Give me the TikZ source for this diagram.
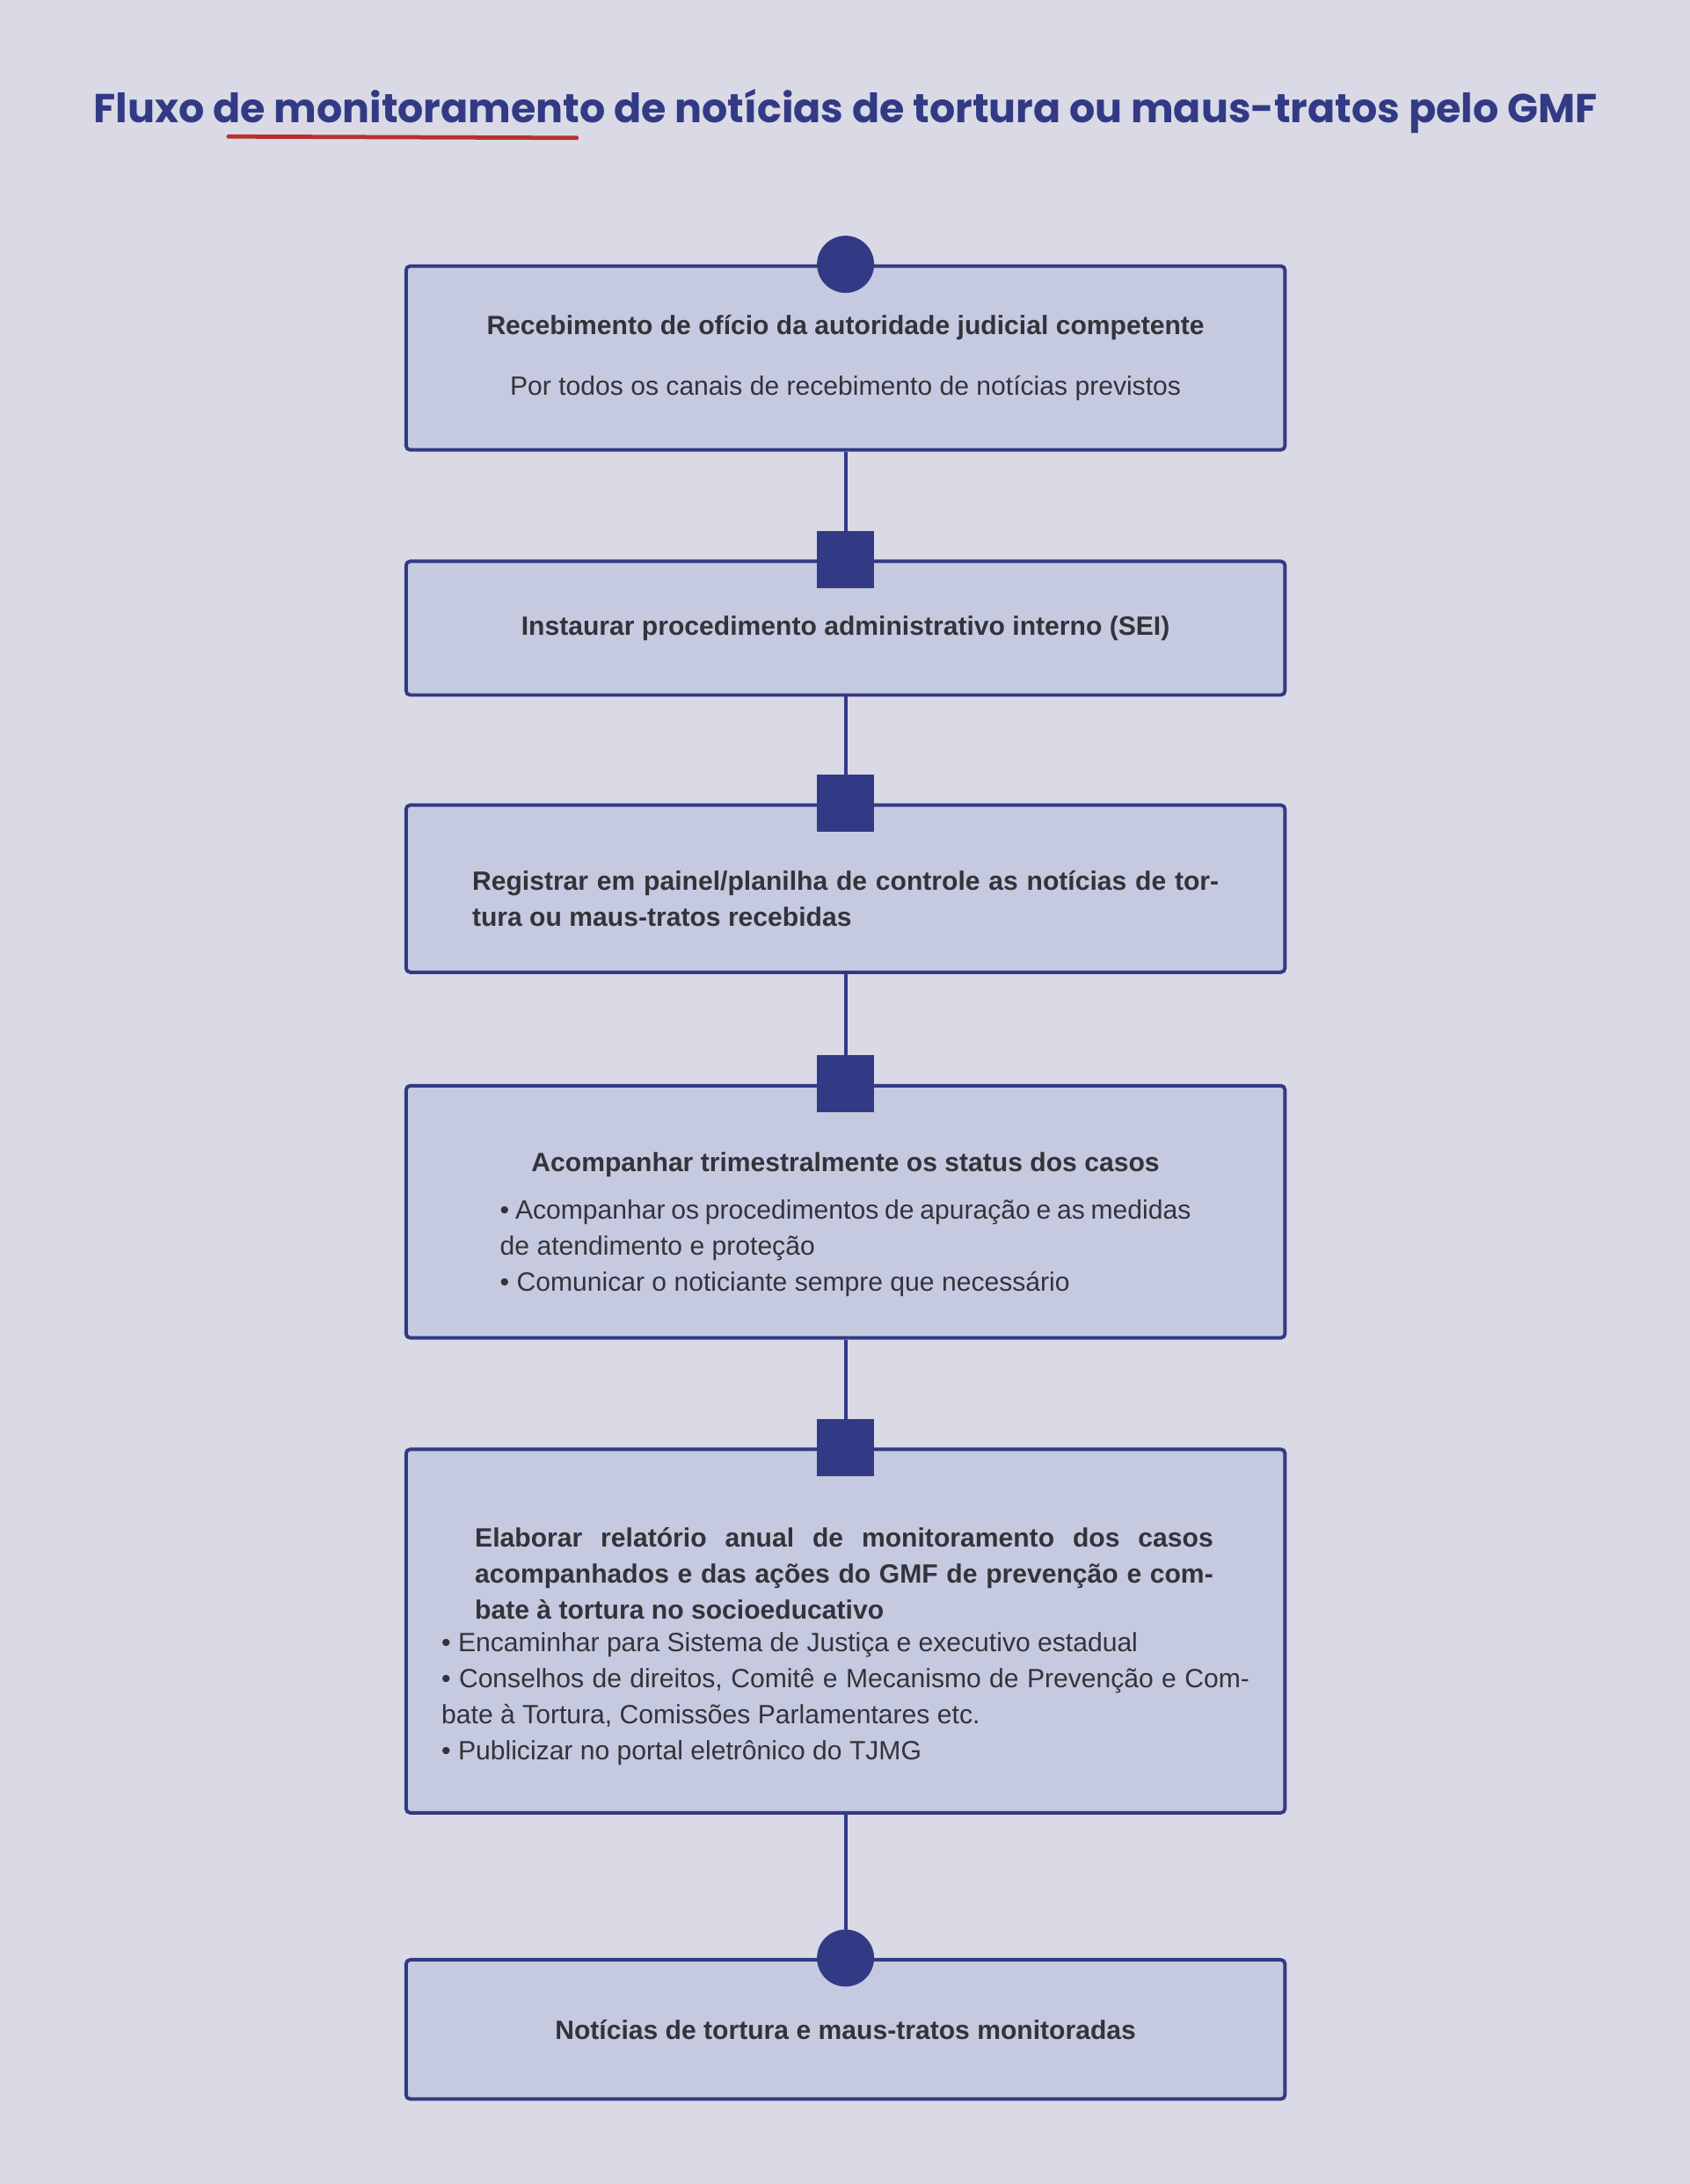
\documentclass[tikz,border=0pt]{standalone}
\usepackage{fontspec}
\setmainfont{Liberation Sans}
\newfontfamily\titlefont{Poppins}
\usetikzlibrary{positioning}
\definecolor{bgcol}{HTML}{DADAE6}
\definecolor{boxcol}{HTML}{C6CAE0}
\definecolor{navy}{HTML}{333A85}
\definecolor{txt}{HTML}{33333A}
\definecolor{redline}{HTML}{B8312F}
\tikzset{
  stage/.style={rectangle, draw=navy, line width=2.5pt, rounded corners=3pt, fill=boxcol,
    minimum width=631pt, text=txt, font=\fontsize{19}{26}\selectfont, inner sep=0pt},
  dot/.style={circle, fill=navy, minimum size=41pt, inner sep=0pt},
  sq/.style={rectangle, fill=navy, minimum size=41pt, inner sep=0pt},
  link/.style={draw=navy, line width=2.5pt}
}
\begin{document}
\begin{tikzpicture}[x=1pt,y=1pt]
\fill[bgcol] (0,0) rectangle (1213,-1568);
\useasboundingbox (0,0) rectangle (1213,-1568);
% title
\node[font=\titlefont\bfseries\fontsize{29}{34}\selectfont, text=navy] (title) at (607,-80)
  {Fluxo de monitoramento de notícias de tortura ou maus-tratos pelo GMF};
\draw[redline, line width=3pt, line cap=round] (164,-98) -- (414,-99);
% stages
\node[stage, minimum height=132pt, align=center] (s1) at (607,-257)
  {\textbf{Recebimento de ofício da autoridade judicial competente}\\[18pt]
   Por todos os canais de recebimento de notícias previstos};
\node[stage, minimum height=96pt] (s2) at (607,-451)
  {\raisebox{-12pt}{\textbf{Instaurar procedimento administrativo interno (SEI)}}};
\node[stage, minimum height=120pt] (s3) at (607,-638)
  {\parbox{536pt}{\vspace*{14pt}\textbf{Registrar em painel/planilha de controle as notícias de tortura ou maus-tratos recebidas}}};
\node[stage, minimum height=181pt] (s4) at (607,-870)
  {\parbox{496pt}{\vspace*{18pt}\makebox[\linewidth]{\textbf{Acompanhar trimestralmente os status dos casos}}\\[8pt]
   • Acompanhar os procedimentos de apuração e as medidas de atendimento e proteção\\
   • Comunicar o noticiante sempre que necessário}};
\node[stage, minimum height=261pt] (s5) at (607,-1171)
  {\parbox{580pt}{\vspace*{22pt}\hspace*{24pt}\parbox{530pt}{\textbf{Elaborar relatório anual de monitoramento dos casos acompanhados e das ações do GMF de prevenção e combate à tortura no socioeducativo}}\\[8pt]
   • Encaminhar para Sistema de Justiça e executivo estadual\\
   • Conselhos de direitos, Comitê e Mecanismo de Prevenção e Combate à Tortura, Comissões Parlamentares etc.\\
   • Publicizar no portal eletrônico do TJMG}};
\node[stage, minimum height=100pt] (s6) at (607,-1457)
  {\raisebox{-12pt}{\textbf{Notícias de tortura e maus-tratos monitoradas}}};
% connectors
\foreach \a/\b in {s1/s2, s2/s3, s3/s4, s4/s5, s5/s6}
  \draw[link] (\a.south) -- (\b.north);
% markers
\node[dot] (m1) at (s1.north) {};
\node[sq] (m2) at (s2.north) {};
\node[sq] (m3) at (s3.north) {};
\node[sq] (m4) at (s4.north) {};
\node[sq] (m5) at (s5.north) {};
\node[dot] (m6) at (s6.north) {};
\end{tikzpicture}
\end{document}
